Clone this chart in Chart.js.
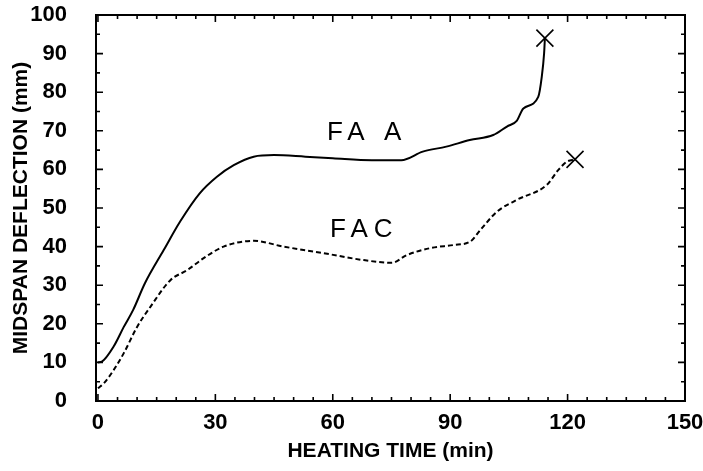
<!DOCTYPE html>
<html>
<head>
<meta charset="utf-8">
<script src="https://cdn.jsdelivr.net/npm/chart.js@4.4.1/dist/chart.umd.min.js"></script>
<style>
  html, body { margin: 0; padding: 0; background: #fff; }
  #wrap { width: 703px; height: 471px; }
</style>
</head>
<body>
<div id="wrap"><canvas id="deflChart" width="703" height="471"></canvas></div>
<script>
//------------------------------ DATA ------------------------------

// FAA specimen (solid line)
const faaTime = [0, 1, 4, 6.6, 9, 12, 16.8, 21, 26, 30.4, 34.7, 39.8, 45, 53, 60, 70, 77.5, 83, 89, 95, 101, 104.5, 107, 108.7, 112.5, 113.4, 114, 114.2];
const faaDefl = [10, 10.2, 14.1, 19.2, 23.6, 30.5, 39.1, 46.5, 53.8, 58.1, 61.1, 63.3, 63.7, 63.3, 62.9, 62.4, 62.4, 64.6, 65.9, 67.6, 68.9, 71.1, 72.6, 75.8, 78.8, 84, 90.1, 94];

// FAC specimen (dashed line)
const facTime = [0, 1.5, 4, 6.6, 10, 13.4, 18.5, 22.8, 27, 32.1, 39.8, 47.4, 57.6, 67.9, 75.1, 78.9, 84.9, 90.8, 95.1, 97.7, 101.9, 107, 114.7, 117.6, 119.8, 121.9];
const facDefl = [3.3, 4.6, 8, 12.4, 19.2, 24.4, 31.3, 33.9, 37, 40, 41.5, 40, 38.3, 36.5, 35.8, 37.8, 39.6, 40.4, 41.3, 44.3, 49, 52.1, 56, 59.8, 62, 62.6];

// failure points (x marks)
const failTime = [114.2, 121.9];
const failDefl = [94, 62.6];

// curve names and where they are written
const curveNames = ['FA A', 'FAC'];
const nameTime = [68, 67.3];
const nameDefl = [69.4, 44.3];

// axis ticks
const xTicks = [0, 30, 60, 90, 120, 150];
const yTicks = [0, 10, 20, 30, 40, 50, 60, 70, 80, 90, 100];

//------------------------------ HELPERS ------------------------------

function toPoints(xs, ys) {
    return xs.map((x, i) => ({ x: x, y: ys[i] }));
}

// no extra room for overflowing tick labels, the layout padding handles it
function noLabelPadding(scale) {
    scale.paddingTop = 0;
    scale.paddingBottom = 0;
    scale.paddingLeft = 0;
    scale.paddingRight = 0;
}

const tickFont = { family: '"Liberation Sans Narrow", "Liberation Sans", sans-serif', weight: 'bold', size: 22 };
const titleFont = { family: '"Liberation Sans Narrow", "Liberation Sans", sans-serif', weight: 'bold', size: 21 };

// plot frame with inward tick marks on all four sides
const framePlugin = {
    id: 'frame',
    afterDatasetsDraw(chart) {
        const { ctx, chartArea: a, scales: { x, y } } = chart;
        ctx.save();
        ctx.strokeStyle = '#000';
        ctx.lineWidth = 2;
        ctx.strokeRect(a.left, a.top, a.right - a.left, a.bottom - a.top);
        ctx.lineWidth = 1.6;
        ctx.beginPath();
        for (let v = 0; v <= 150; v += 5) {
            const px = x.getPixelForValue(v);
            const len = v % 30 === 0 ? 7 : 4;
            ctx.moveTo(px, a.bottom); ctx.lineTo(px, a.bottom - len);
            ctx.moveTo(px, a.top); ctx.lineTo(px, a.top + len);
        }
        for (let v = 0; v <= 100; v += 5) {
            const py = y.getPixelForValue(v);
            const len = v % 10 === 0 ? 7 : 4;
            ctx.moveTo(a.left, py); ctx.lineTo(a.left + len, py);
            ctx.moveTo(a.right, py); ctx.lineTo(a.right - len, py);
        }
        ctx.stroke();

        // curve names
        ctx.fillStyle = '#000';
        ctx.font = '26px "Liberation Sans Narrow", "Liberation Sans", sans-serif';
        ctx.textAlign = 'center';
        ctx.textBaseline = 'middle';
        ctx.letterSpacing = '6px';
        curveNames.forEach((name, i) => {
            ctx.fillText(name, x.getPixelForValue(nameTime[i]) + 3, y.getPixelForValue(nameDefl[i]));
        });
        ctx.restore();
    }
};

//------------------------------ CHART ------------------------------

const ctx = document.getElementById('deflChart').getContext('2d');
const deflChart = new Chart(ctx, {
    type: 'line',
    data: {
        datasets: [
            {
                label: 'FAA',
                data: toPoints(faaTime, faaDefl),
                borderColor: '#000',
                borderWidth: 2,
                pointRadius: 0,
                cubicInterpolationMode: 'monotone',
                fill: false
            },
            {
                label: 'FAC',
                data: toPoints(facTime, facDefl),
                borderColor: '#000',
                borderWidth: 2,
                borderDash: [5, 3],
                pointRadius: 0,
                cubicInterpolationMode: 'monotone',
                fill: false
            },
            {
                label: 'Failure',
                data: toPoints(failTime, failDefl),
                showLine: false,
                pointStyle: 'crossRot',
                pointRadius: 12,
                pointBorderWidth: 1.6,
                pointBorderColor: '#000'
            }
        ]
    },
    options: {
        responsive: false,
        animation: false,
        layout: { padding: { top: 15, right: 18, left: 0, bottom: 0 } },
        plugins: {
            legend: { display: false },
            tooltip: { enabled: false }
        },
        scales: {
            x: {
                type: 'linear',
                min: -0.5,
                max: 150,
                grid: { display: false, drawTicks: false },
                border: { display: false },
                afterBuildTicks: (scale) => { scale.ticks = xTicks.map(v => ({ value: v })); },
                afterFit: (scale) => { scale.height = 70; noLabelPadding(scale); },
                ticks: {
                    color: '#000',
                    font: tickFont,
                    padding: 9,
                    maxRotation: 0,
                    autoSkip: false
                },
                title: {
                    display: true,
                    text: 'HEATING TIME (min)',
                    color: '#000',
                    font: titleFont,
                    padding: { top: 0, bottom: 7 }
                }
            },
            y: {
                type: 'linear',
                min: 0,
                max: 100,
                grid: { display: false, drawTicks: false },
                border: { display: false },
                afterBuildTicks: (scale) => { scale.ticks = yTicks.map(v => ({ value: v })); },
                afterFit: (scale) => { scale.width = 96; noLabelPadding(scale); },
                ticks: {
                    color: '#000',
                    font: tickFont,
                    padding: 29,
                    autoSkip: false
                },
                title: {
                    display: true,
                    text: 'MIDSPAN DEFLECTION (mm)',
                    color: '#000',
                    font: titleFont,
                    padding: { top: 9, bottom: 0 }
                }
            }
        }
    },
    plugins: [framePlugin]
});
</script>
</body>
</html>
